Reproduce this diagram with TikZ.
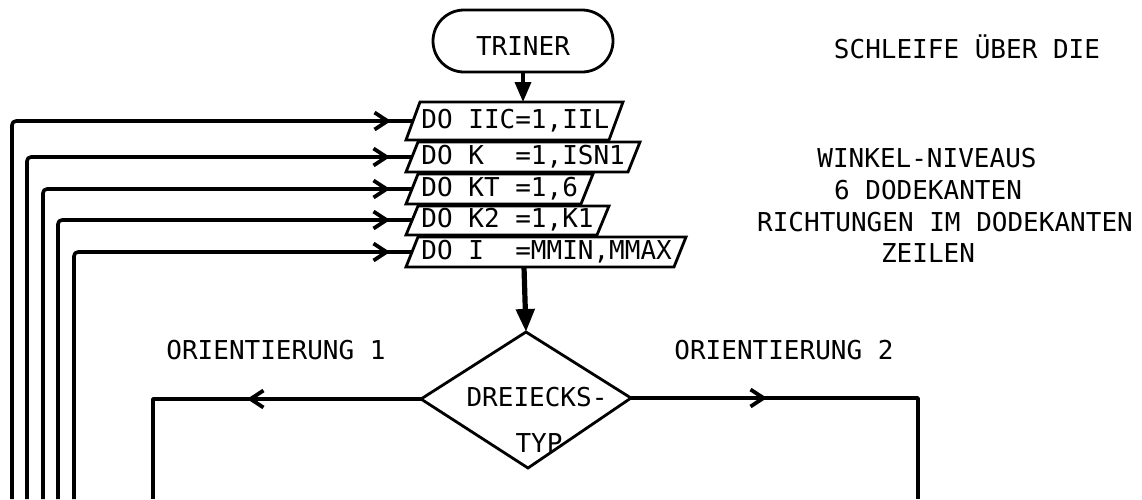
\documentclass[tikz,border=0pt]{standalone}
\usepackage{fontspec}
\newfontfamily\monof{DejaVu Sans Mono}
\usetikzlibrary{arrows.meta,decorations.markings}
\begin{document}
\begin{tikzpicture}[x=0.5pt,y=-0.5pt,
  every node/.style={font=\monof\fontsize{13pt}{15.6pt}\selectfont, inner sep=0pt},
  ln/.style={line width=1.8pt, line join=round},
  box/.style={line width=1.4pt, line join=miter},
  loopar/.style={postaction={decorate}, decoration={markings,
     mark=at position -11pt with {\arrow{Straight Barb[length=6.5pt,width=8.5pt,line width=1.9pt]}}}},
  leftar/.style={postaction={decorate}, decoration={markings,
     mark=at position 87pt with {\arrow{Straight Barb[length=6.5pt,width=8.5pt,line width=1.9pt]}}}},
  rightar/.style={postaction={decorate}, decoration={markings,
     mark=at position 68pt with {\arrow{Straight Barb[length=6.5pt,width=8.5pt,line width=1.9pt]}}}},
  heavy/.style={line width=2.6pt},
]
\useasboundingbox (0,0) rectangle (1142,499);

% terminator
\node[draw, rounded corners=15.5pt, minimum width=90pt, minimum height=31pt,
      line width=1.4pt, text height=14.5pt, text depth=0pt] (trn) at (523,41) {TRINER};

% DO boxes
\draw[box] (406,140) -- (420,102) -- (623,102) -- (609,140) -- cycle;
\draw[box] (406,172) -- (418,142) -- (640,142) -- (628,172) -- cycle;
\draw[box] (406,204) -- (418,174) -- (593,174) -- (581,204) -- cycle;
\draw[box] (406,235) -- (418,206) -- (609,206) -- (597,235) -- cycle;
\draw[box] (406,267) -- (418,237) -- (686,237) -- (674,267) -- cycle;

\coordinate (p1t) at (523,102);
\coordinate (p5b) at (524,267);
\coordinate (l1) at (413,121);
\coordinate (l2) at (412,157);
\coordinate (l3) at (412,189);
\coordinate (l4) at (412,220);
\coordinate (l5) at (412,252);

\node[anchor=west] (t1) at (421,121) {DO IIC=1,IIL};
\node[anchor=west] (t2) at (421,157) {DO K~~=1,ISN1};
\node[anchor=west] (t3) at (421,189) {DO KT =1,6};
\node[anchor=west] (t4) at (421,220) {DO K2 =1,K1};
\node[anchor=west] (t5) at (421,252) {DO I~~=MMIN,MMAX};

\draw[ln, -{Triangle[length=10pt,width=8pt]}] (trn.south) -- (p1t);

% loop lines
\coordinate (b1) at (12,499);
\coordinate (b2) at (27,499);
\coordinate (b3) at (43,499);
\coordinate (b4) at (58,499);
\coordinate (b5) at (74,499);
\draw[ln, rounded corners=2pt, loopar] (b1) |- (l1);
\draw[ln, rounded corners=2pt, loopar] (b2) |- (l2);
\draw[ln, rounded corners=2pt, loopar] (b3) |- (l3);
\draw[ln, rounded corners=2pt, loopar] (b4) |- (l4);
\draw[ln, rounded corners=2pt, loopar] (b5) |- (l5);

% diamond
\coordinate (dT) at (526,332);
\coordinate (dL) at (421,399);
\coordinate (dB) at (528,468);
\coordinate (dR) at (631,398);
\draw[box] (dT) -- (dR) -- (dB) -- (dL) -- cycle;
\node (dx1) at (537,397) {DREIECKS-};
\node (dx2) at (539,443) {TYP};

\draw[heavy, -{Triangle[length=11.5pt,width=9pt]}] (p5b) -- (dT);

% branches
\coordinate (eL) at (153,499);
\coordinate (eR) at (918,499);
\draw[ln, leftar] (dL) -| (eL);
\draw[ln, rightar] (dR) -| (eR);

\node (o1) at (276,350) {ORIENTIERUNG 1};
\node (o2) at (784,350) {ORIENTIERUNG 2};

% comments
\node (c0) at (967,47) {SCHLEIFE ÜBER DIE};
\node (c1) at (927,158) {WINKEL-NIVEAUS};
\node (c2) at (928,190) {6 DODEKANTEN};
\node (c3) at (945,222) {RICHTUNGEN IM DODEKANTEN};
\node (c4) at (928,253) {ZEILEN};
\end{tikzpicture}
\end{document}
